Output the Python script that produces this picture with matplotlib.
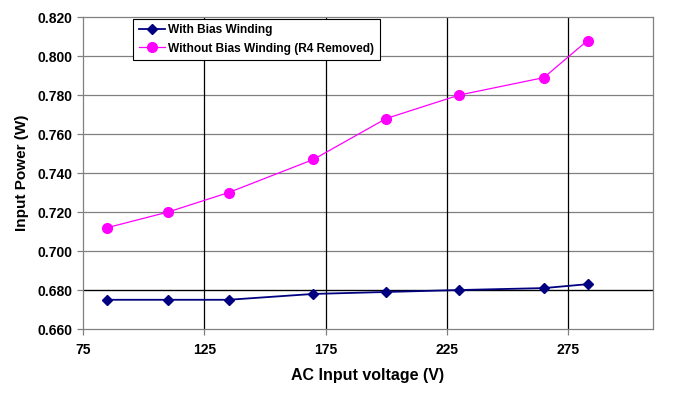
import matplotlib.pyplot as plt
from matplotlib.ticker import FormatStrFormatter

plt.rcParams['font.family'] = ['Liberation Sans', 'DejaVu Sans']
plt.rcParams['font.weight'] = 'bold'

# AC input voltage (V)
voltage = [85, 110, 135, 170, 200, 230, 265, 283]
# input power (W)
with_bias = [0.675, 0.675, 0.675, 0.678, 0.679, 0.680, 0.681, 0.683]
without_bias = [0.712, 0.720, 0.730, 0.747, 0.768, 0.780, 0.789, 0.808]

x_ticks = [75, 125, 175, 225, 275]
y_ticks = [0.660, 0.680, 0.700, 0.720, 0.740, 0.760, 0.780, 0.800, 0.820]

fig = plt.figure(figsize=(6.76, 3.99), dpi=100)
ax = fig.add_axes([0.1228, 0.1754, 0.8432, 0.7816])

ax.set_xlim(75, 310)
ax.set_ylim(0.660, 0.820)
ax.set_xticks(x_ticks)
ax.set_yticks(y_ticks)
ax.yaxis.set_major_formatter(FormatStrFormatter('%.3f'))

for y in y_ticks[1:-1]:
    ax.axhline(y, color='#808080', lw=0.9, zorder=1)
for x in x_ticks[1:]:
    ax.axvline(x, color='black', lw=0.9, zorder=1)
ax.axhline(0.680, color='black', lw=0.9, zorder=1)

ax.plot(voltage, with_bias, color='#000080', lw=1.3, marker='D',
        markersize=5, label='With Bias Winding', zorder=3)
ax.plot(voltage, without_bias, color='#FF00FF', lw=0.9, marker='o',
        markersize=7, label='Without Bias Winding (R4 Removed)', zorder=3)

for side in ['top', 'right', 'bottom', 'left']:
    ax.spines[side].set_color('#808080')
    ax.spines[side].set_linewidth(0.9)

ax.tick_params(axis='both', labelsize=10, color='#808080', length=4, width=0.9)
ax.tick_params(axis='x', pad=6)
ax.set_xlabel('AC Input voltage (V)', fontsize=11.5, fontweight='bold', labelpad=8)
ax.set_ylabel('Input Power (W)', fontsize=11, fontweight='bold', labelpad=6)

leg = ax.legend(loc='upper left', bbox_to_anchor=(0.088, 0.995), fontsize=8.6,
                frameon=True, fancybox=False, borderpad=0.45, labelspacing=0.55,
                handlelength=2.2, handletextpad=0.3, borderaxespad=0)
leg.get_frame().set_edgecolor('black')
leg.get_frame().set_linewidth(0.8)
leg.get_frame().set_alpha(1)

fig.savefig('out.png', dpi=100)
